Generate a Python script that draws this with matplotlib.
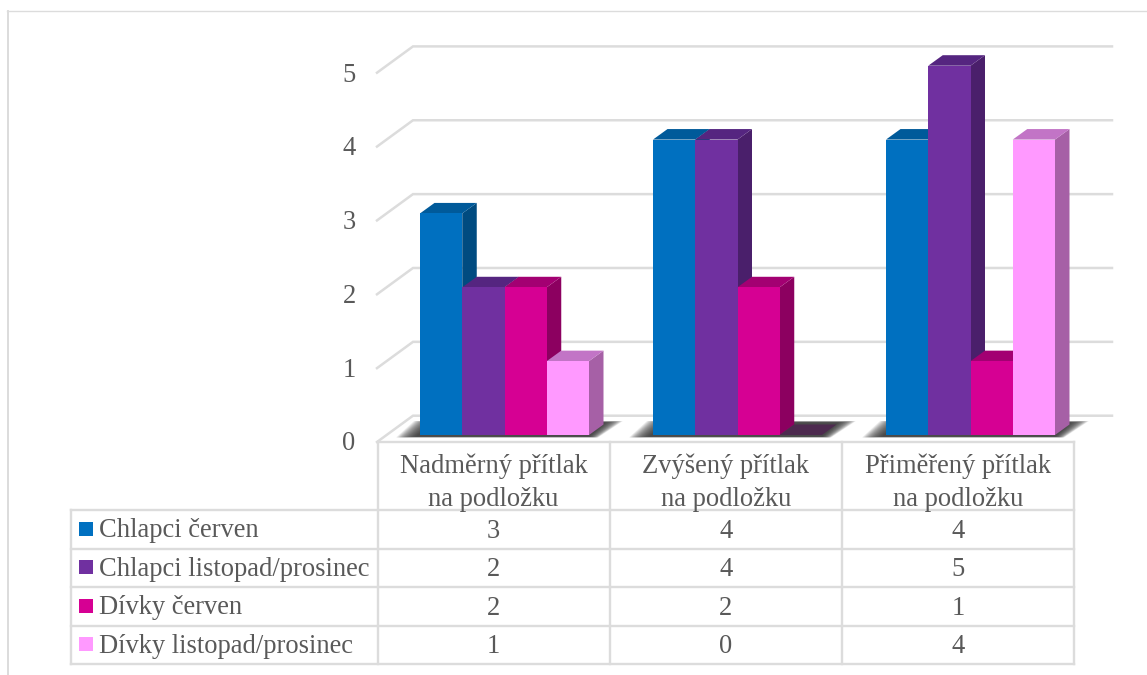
import matplotlib
matplotlib.use("Agg")
import matplotlib.pyplot as plt
from matplotlib.patches import Polygon, Rectangle

W, H = 1147, 675
categories = ["Nadměrný přítlak\nna podložku", "Zvýšený přítlak\nna podložku", "Přiměřený přítlak\nna podložku"]
series_names = ["Chlapci červen", "Chlapci listopad/prosinec", "Dívky červen", "Dívky listopad/prosinec"]
chlapci_cerven = [3, 4, 4]
chlapci_listopad = [2, 4, 5]
divky_cerven = [2, 2, 1]
divky_listopad = [1, 0, 4]
series_values = [chlapci_cerven, chlapci_listopad, divky_cerven, divky_listopad]
y_ticks = [0, 1, 2, 3, 4, 5]
front_colors = ["#0070C0", "#7030A0", "#D60093", "#FF99FF"]
side_colors = ["#004B80", "#4A1F6B", "#8C0060", "#A660A6"]
top_colors = ["#005A9A", "#552580", "#A30072", "#C274C6"]
zero_top = "#4D2A4F"
GRID = "#DCDCDC"
TXT = "#595959"
FS = 19.1

plt.rcParams["font.family"] = ["Liberation Serif", "DejaVu Serif"]
fig = plt.figure(figsize=(W / 100, H / 100), dpi=100, facecolor="white")

# Overlay in pixel coordinates for frame and table layout
ov = fig.add_axes([0, 0, 1, 1], zorder=3)
ov.set_xlim(0, W); ov.set_ylim(H, 0); ov.axis("off"); ov.patch.set_alpha(0)

# Plot axes: x in category units, y in value units
L, R, B, T = 388, 1087, 435, 65.7
ax = fig.add_axes([L / W, 1 - B / H, (R - L) / W, (B - T) / H], zorder=2)
ax.set_xlim(0, 3); ax.set_ylim(0, 5); ax.axis("off"); ax.patch.set_alpha(0)
ux = 3 / (R - L); uy = 5 / (B - T)

def poly(pts, color, z, alpha=1.0):
    ax.add_patch(Polygon(pts, closed=True, facecolor=color, edgecolor="none",
                         alpha=alpha, zorder=z, clip_on=False))

# Walls: gridlines
back_dy = 19.3 * uy
front_dy = -7.0 * uy
x_left_front = (377 - L) * ux
x_left_back = (413 - L) * ux
x_right_back = (1112 - L) * ux
for v in y_ticks:
    ax.plot([x_left_front, x_left_back, x_right_back], [v + front_dy, v + back_dy, v + back_dy],
            color=GRID, lw=1.8, zorder=1, clip_on=False, solid_joinstyle="miter")

# Bars
bw = 42.25 * ux
dx, dy = 14.5 * ux, 10.5 * uy
n = len(series_values)
for c in range(len(categories)):
    x0 = c + 0.5 - n * bw / 2
    x1 = x0 + n * bw
    # soft shadow on the floor: nested translucent layers, each fading inward from the tips
    steps = 24
    for s in range(steps):
        g = s / (steps - 1)        # 0 = outermost, 1 = innermost
        sy0, sy1 = (-2.5 + g * 0.8) * uy, (14 - g * 1.5) * uy
        l_in = g * 20 * ux
        r_in = g * 18 * ux
        poly([(x0 - 24 * ux + l_in, sy0), (x1 + 9 * ux - r_in * .5, sy0),
              (x1 + 34 * ux - r_in, sy1), (x0 - 6 * ux + l_in, sy1)], "#303030", 2, alpha=0.075)
    for i in range(n):
        v = series_values[i][c]
        x = x0 + i * bw
        if v == 0:
            poly([(x, 0), (x + bw, 0), (x + bw + dx, dy), (x + dx, dy)], zero_top, 3)
            continue
        poly([(x + bw, 0), (x + bw + dx, dy), (x + bw + dx, v + dy), (x + bw, v)], side_colors[i], 3)
        poly([(x, v), (x + bw, v), (x + bw + dx, v + dy), (x + dx, v + dy)], top_colors[i], 3)
        ax.bar(x, v, width=bw, align="edge", color=front_colors[i], linewidth=0, zorder=3)

# Outer frame
ov.plot([7, W], [10.5, 10.5], color=GRID, lw=1.0, clip_on=False)
ov.plot([7.5, 7.5], [10.5, H], color=GRID, lw=1.4, clip_on=False)

# Y tick labels
for v in y_ticks:
    ov.text(349, 444 - v * 73.8, str(v), ha="center", va="center", fontsize=FS, color=TXT)

# Table
col_x = [377.5, 609.5, 842, 1074]
row_y = [510, 548.5, 587, 625.5, 664]
left_x = 71
top_y = 442
tl = dict(color=GRID, lw=1.7, solid_capstyle="projecting")
for y in row_y:
    ov.plot([left_x, col_x[-1]], [y, y], **tl)
ov.plot([col_x[0], col_x[-1]], [top_y, top_y], **tl)
for x in col_x:
    ov.plot([x, x], [top_y, row_y[-1]], **tl)
ov.plot([left_x, left_x], [row_y[0], row_y[-1]], **tl)

for c, name in enumerate(categories):
    cx = (col_x[c] + col_x[c + 1]) / 2
    ov.text(cx, 483, name, ha="center", va="center", fontsize=FS, color=TXT, linespacing=1.42)
for r, name in enumerate(series_names):
    cy = (row_y[r] + row_y[r + 1]) / 2
    ov.add_patch(Rectangle((79, cy - 7.5), 14, 14, facecolor=front_colors[r], edgecolor="none"))
    ov.text(99, cy + 1.5, name, ha="left", va="center", fontsize=FS, color=TXT)
    for c in range(len(categories)):
        cx = (col_x[c] + col_x[c + 1]) / 2
        ov.text(cx, cy + 2.2, str(series_values[r][c]), ha="center", va="center", fontsize=FS, color=TXT)

fig.savefig("out.png", dpi=100, facecolor="white")
